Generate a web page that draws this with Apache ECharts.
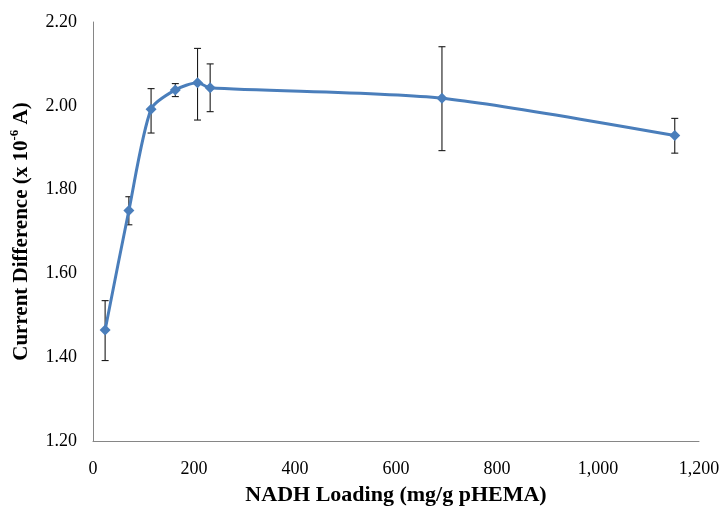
<!DOCTYPE html>
<html>
<head>
<meta charset="utf-8">
<script src="https://cdn.jsdelivr.net/npm/echarts@6/dist/echarts.min.js"></script>
<style>html,body{margin:0;padding:0;background:#fff}#c{width:724px;height:506px}</style>
</head>
<body>
<div id="c"></div>
<script>
const loading = [24, 71, 115, 163, 207, 232, 691, 1152];
const current = [1.465, 1.750, 1.992, 2.038, 2.055, 2.043, 2.018, 1.929];
const errLow  = [1.392, 1.716, 1.935, 2.022, 1.966, 1.986, 1.893, 1.887];
const errHigh = [1.535, 1.783, 2.041, 2.053, 2.137, 2.100, 2.141, 1.970];
const xTicks = [0, 200, 400, 600, 800, 1000, 1200];
const yTicks = [1.2, 1.4, 1.6, 1.8, 2.0, 2.2];

const chart = echarts.init(document.getElementById('c'));
const font = '"Liberation Serif", "Times New Roman", serif';
chart.setOption({
  animation: false,
  grid: {left: 93, right: 25, top: 22, bottom: 65, containLabel: false, outerBoundsMode: 'none'},
  xAxis: {
    type: 'value', min: xTicks[0], max: xTicks[xTicks.length-1], interval: 200,
    name: 'NADH Loading (mg/g pHEMA)', nameLocation: 'middle', nameGap: 43,
    nameTextStyle: {fontFamily: font, fontWeight: 'bold', fontSize: 22, color: '#000'},
    axisLine: {lineStyle: {color: '#868686', width: 1}},
    axisTick: {show: false},
    splitLine: {show: false},
    axisLabel: {fontFamily: font, fontSize: 18, color: '#000', margin: 19,
      formatter: v => v.toLocaleString('en-US')}
  },
  yAxis: {
    type: 'value', min: yTicks[0], max: yTicks[yTicks.length-1], interval: 0.2,
    name: '{t|Current Difference (x 10}{s|-6}{t| A)}', nameLocation: 'middle', nameGap: 61,
    nameTextStyle: {
      rich: {
        t: {fontFamily: font, fontWeight: 'bold', fontSize: 21, color: '#000', lineHeight: 24, verticalAlign: 'bottom'},
        s: {fontFamily: font, fontWeight: 'bold', fontSize: 13, color: '#000', lineHeight: 24, verticalAlign: 'top'}
      }
    },
    axisLine: {show: true, lineStyle: {color: '#868686', width: 1}},
    axisTick: {show: false},
    splitLine: {show: false},
    axisLabel: {fontFamily: font, fontSize: 18, color: '#000', margin: 16,
      formatter: v => v.toFixed(2)}
  },
  series: [
    {
      type: 'custom',
      data: loading.map((x, i) => [x, errLow[i], errHigh[i]]),
      z: 1,
      renderItem: function (params, api) {
        const lo = api.coord([api.value(0), api.value(1)]);
        const hi = api.coord([api.value(0), api.value(2)]);
        const w = 3.5;
        const st = {stroke: '#1a1a1a', lineWidth: 1.1};
        return {type: 'group', children: [
          {type: 'line', shape: {x1: lo[0], y1: lo[1], x2: hi[0], y2: hi[1]}, style: st},
          {type: 'line', shape: {x1: lo[0]-w, y1: lo[1], x2: lo[0]+w, y2: lo[1]}, style: st},
          {type: 'line', shape: {x1: hi[0]-w, y1: hi[1], x2: hi[0]+w, y2: hi[1]}, style: st}
        ]};
      }
    },
    {
      type: 'line',
      data: loading.map((x, i) => [x, current[i]]),
      smooth: 0.25,
      z: 2,
      symbol: 'diamond', symbolSize: 11,
      lineStyle: {color: '#4A7EBB', width: 3},
      itemStyle: {color: '#4A7EBB'}
    }
  ]
});
</script>
</body>
</html>
